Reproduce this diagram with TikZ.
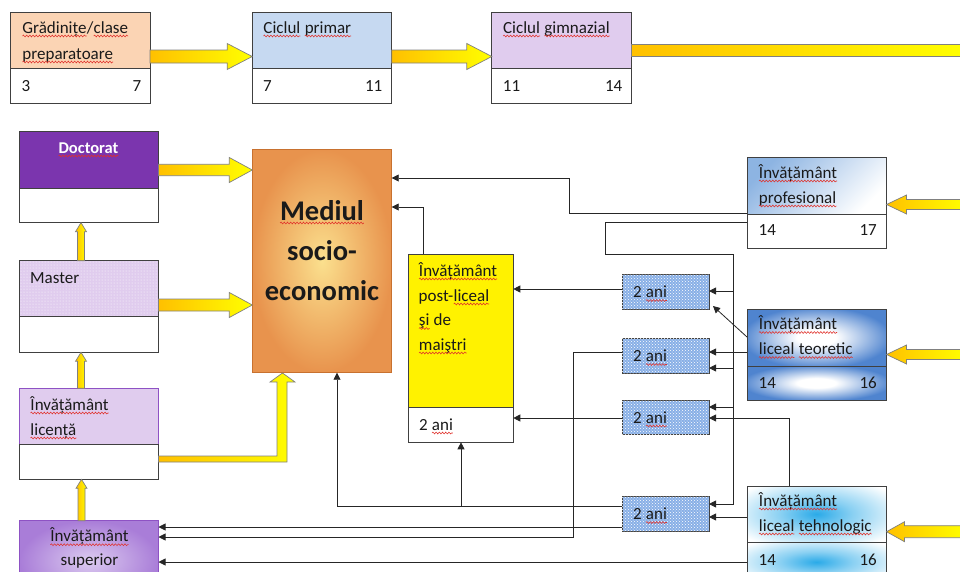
\documentclass[tikz,border=0pt]{standalone}
\usepackage{fontspec}
\setmainfont{Carlito}
\usetikzlibrary{arrows.meta,patterns,calc,shadings,decorations.pathmorphing}
\definecolor{peach}{HTML}{FBD4B4}
\definecolor{lblue}{HTML}{C6D9F1}
\definecolor{lav}{HTML}{E0CCEE}
\definecolor{docp}{HTML}{7B35AE}
\definecolor{edge}{HTML}{404040}
\definecolor{purpedge}{HTML}{8E52C4}
\definecolor{orng}{HTML}{FFC000}
\definecolor{yell}{HTML}{FFFF00}
\definecolor{medout}{HTML}{E8934D}
\definecolor{medin}{HTML}{FBE08E}
\definecolor{medbord}{HTML}{C8712F}
\definecolor{pblue}{HTML}{8DB4E2}
\definecolor{tblue}{HTML}{4F84CF}
\definecolor{cyanb}{HTML}{2AAAE8}
\definecolor{supin}{HTML}{DCCBF0}
\definecolor{supout}{HTML}{A97DD8}
\definecolor{aniblue}{HTML}{88AFE6}
\definecolor{squig}{HTML}{E0302A}
\definecolor{txtc}{HTML}{1A1A1A}
\pgfdeclareradialshading{teosh}{\pgfpointorigin}{color(0bp)=(white); color(7bp)=(white); color(27bp)=(tblue); color(50bp)=(tblue)}
\pgfdeclareradialshading{tehsh}{\pgfpointorigin}{color(0bp)=(cyanb); color(13bp)=(cyanb!55!white); color(33bp)=(white); color(50bp)=(white)}
\newcommand\rw[1]{\tikz[baseline=(wq.base),x=1pt,y=1pt]{\node[inner sep=0pt,outer sep=0pt,anchor=base](wq){#1};\draw[squig,line width=0.55pt,decorate,decoration={snake,amplitude=0.9pt,segment length=3.2pt}]([yshift=-3pt]wq.base west)--([yshift=-3pt]wq.base east);}}
\newcommand\nf{\fontsize{17}{20}\selectfont}
\newcommand\blockH[6]{\pgfmathsetmacro\bx{#2-sign(#2-#1)*#6}%
 \path[barrow] (#1,#3-#4) -- (\bx,#3-#4) -- (\bx,#3-#5) -- (#2,#3) -- (\bx,#3+#5) -- (\bx,#3+#4) -- (#1,#3+#4) -- cycle;}
\newcommand\blockV[6]{\pgfmathsetmacro\by{#3-sign(#3-#2)*#6}%
 \path[barrow] (#1-#4,#2) -- (#1-#4,\by) -- (#1-#5,\by) -- (#1,#3) -- (#1+#5,\by) -- (#1+#4,\by) -- (#1+#4,#2) -- cycle;}
\begin{document}
\begin{tikzpicture}[x=1pt,y=-1pt,
  part/.style={draw=edge, line width=0.9pt, inner sep=0pt, outer sep=0pt, anchor=north west},
  txt/.style={anchor=base west, inner sep=0pt, font=\nf, text=txtc},
  ctxt/.style={anchor=base, inner sep=0pt, font=\nf, text=txtc},
  rtxt/.style={anchor=base east, inner sep=0pt, font=\nf, text=txtc},
  conn/.style={draw=black!85, line width=0.8pt, -{Triangle[length=7pt,width=7pt]}},
  barrow/.style={draw=black!50, line width=0.7pt, left color=orng, right color=yell},
  anibox/.style={part, fill=aniblue, postaction={pattern=crosshatch dots, pattern color=white}, minimum width=87}]
\useasboundingbox (0,0) rectangle (960,571);
\clip (0,0) rectangle (960,571);
% top row
\node[part, fill=peach, minimum width=139.5, minimum height=56] (gradT) at (10.5,12.5) {};
\node[part, fill=white, minimum width=139.5, minimum height=35] (gradB) at (10.5,68.5) {};
\node[part, fill=lblue, minimum width=139.5, minimum height=56] (cpT) at (252.2,12.5) {};
\node[part, fill=white, minimum width=139.5, minimum height=35] (cpB) at (252.2,68.5) {};
\node[part, fill=lav, minimum width=139.5, minimum height=56] (gimT) at (491.8,12.5) {};
\node[part, fill=white, minimum width=139.5, minimum height=35] (gimB) at (491.8,68.5) {};
% left column
\node[part, fill=docp, minimum width=139, minimum height=56.6] (docT) at (19.5,131.7) {};
\node[part, fill=white, minimum width=139, minimum height=34.4] (docB) at (19.5,188.3) {};
\node[part, fill=lav, postaction={pattern=dots, pattern color=white}, minimum width=139, minimum height=56] (masT) at (19.5,260.7) {};
\node[part, fill=white, minimum width=139, minimum height=35.6] (masB) at (19.5,316.7) {};
\node[part, draw=purpedge, fill=lav, minimum width=139, minimum height=56] (licT) at (19.5,388.3) {};
\node[part, fill=white, minimum width=139, minimum height=35] (licB) at (19.5,444.3) {};
\node[part, draw=purpedge, inner color=supin, outer color=supout, minimum width=139, minimum height=80] (sup) at (19.5,520.7) {};
% centre
\node[part, draw=medbord, inner color=medin, outer color=medout, minimum width=139.4, minimum height=223.4] (med) at (252.3,149.3) {};
\node[part, fill=yellow, minimum width=105, minimum height=153.7] (postT) at (408.3,254) {};
\node[part, fill=white, minimum width=105, minimum height=34.6] (postB) at (408.3,407.7) {};
\node[anibox, minimum height=35] (ani1) at (622,274) {};
\node[anibox, minimum height=35] (ani2) at (622,338) {};
\node[anibox, minimum height=34] (ani3) at (622,400) {};
\node[anibox, minimum height=35] (ani4) at (622,496) {};
% right column
\node[part, top color=pblue, bottom color=white, shading angle=45, minimum width=139, minimum height=56.3] (profT) at (747,157.7) {};
\node[part, fill=white, minimum width=139, minimum height=34] (profB) at (747,214) {};
\node[part, shading=teosh, minimum width=139, minimum height=57] (teoT) at (747,309) {};
\node[part, shading=teosh, minimum width=139, minimum height=34] (teoB) at (747,366) {};
\node[part, shading=tehsh, minimum width=139, minimum height=56] (tehT) at (747,486) {};
\node[part, shading=tehsh, minimum width=139, minimum height=40] (tehB) at (747,542) {};
% texts
\node[txt] (g1) at (22,33) {\rw{Grădinițe}/\rw{clase}};
\node[txt] (g2) at (22,59) {\rw{preparatoare}};
\node[txt] (g3) at (21.5,91) {3};
\node[rtxt] (g4) at (141.5,91) {7};
\node[txt] (c1) at (263,33) {\rw{Ciclul} \rw{primar}};
\node[txt] (c2) at (263,91) {7};
\node[rtxt] (c3) at (382.5,91) {11};
\node[txt] (m1) at (502.7,33) {\rw{Ciclul} \rw{gimnazial}};
\node[txt] (m2) at (502.7,91) {11};
\node[rtxt] (m3) at (622.5,91) {14};
\node[ctxt, font=\bfseries\fontsize{16.5}{19}\selectfont, text=white] (d1) at (88.5,153) {\rw{Doctorat}};
\node[txt] (ms1) at (30,283) {Master};
\node[ctxt, font=\bfseries\fontsize{28.5}{30}\selectfont] (me1) at (322,220) {\rw{Mediul}};
\node[ctxt, font=\bfseries\fontsize{28.5}{30}\selectfont] (me2) at (322,260) {socio-};
\node[ctxt, font=\bfseries\fontsize{28.5}{30}\selectfont] (me3) at (322,300) {economic};
\node[txt] (l1) at (30,410) {\rw{Învățământ}};
\node[txt] (l2) at (30,435) {\rw{licență}};
\node[ctxt] (s1) at (89.5,541.7) {\rw{Învățământ}};
\node[ctxt] (s2) at (89.5,565) {superior};
\node[txt] (p1) at (418.5,276) {\rw{Învățământ}};
\node[txt] (p2) at (418.5,301) {post-\rw{liceal}};
\node[txt] (p3) at (418.5,325.5) {\rw{şi} de};
\node[txt] (p4) at (418.5,350) {\rw{maiştri}};
\node[txt] (p5) at (419,430) {2 \rw{ani}};
\node[txt] (a1) at (633,297.5) {2 \rw{ani}};
\node[txt] (a2) at (633,361.5) {2 \rw{ani}};
\node[txt] (a3) at (633,423) {2 \rw{ani}};
\node[txt] (a4) at (633,519.5) {2 \rw{ani}};
\node[txt] (pr1) at (758.5,178) {\rw{Învățământ}};
\node[txt] (pr2) at (758.5,203) {\rw{profesional}};
\node[txt] (pr3) at (758.5,235) {14};
\node[rtxt] (pr4) at (877,235) {17};
\node[txt] (t1) at (758.5,329.5) {\rw{Învățământ}};
\node[txt] (t2) at (758.5,354.5) {\rw{liceal} \rw{teoretic}};
\node[txt] (t3) at (758.5,388.5) {14};
\node[rtxt] (t4) at (877,388.5) {16};
\node[txt] (h1) at (758.5,506) {\rw{Învățământ}};
\node[txt] (h2) at (758.5,531) {\rw{liceal} \rw{tehnologic}};
\node[txt] (h3) at (758.5,565) {14};
\node[rtxt] (h4) at (877,565) {16};
% block arrows
\blockH{150}{252.2}{56.5}{6.5}{13}{25}
\blockH{391.7}{491.8}{56.5}{6.5}{13}{25}
\path[barrow] (631.3,44.5) rectangle (965,56);
\blockH{158.5}{252.3}{170}{5.7}{12.5}{23}
\blockH{158.5}{252.3}{305}{6}{12.5}{23}
\blockH{965}{886.5}{204.5}{5}{9.5}{20}
\blockH{965}{886.5}{354.5}{5}{9.5}{20}
\blockH{965}{886.5}{531.7}{6}{10}{18}
\blockV{81}{260.7}{222.7}{3.5}{5.5}{9}
\blockV{81}{388.3}{352.3}{3.5}{5.5}{9}
\blockV{81.5}{520.7}{479.3}{3.5}{5.5}{9}
\path[barrow] (158.5,456) -- (277,456) -- (277,382) -- (270,382) -- (282.5,373) -- (295,382) -- (287,382) -- (287,462) -- (158.5,462) -- cycle;
% connectors
\coordinate (vbus) at (733,0);
\draw[conn] (profT.west |- 0,213) -| (569,178) -- (med.east |- 0,178);
\draw[conn] (postT.north -| 423,0) |- (med.east |- 0,207);
\draw[conn] (profB.west |- 0,222) -| (605,254) -| (vbus |- 0,504) -- (ani4.east |- 0,504);
\draw[conn] (vbus |- 0,291) -- (ani1.east |- 0,291);
\draw[conn] (vbus |- 0,368) -- (ani2.east |- 0,368);
\draw[conn] (vbus |- 0,407) -- (ani3.east |- 0,407);
\draw[conn] (teoT.west |- 0,337) -- ([shift={(4,-3)}]ani1.south east);
\draw[conn] (teoT.west |- 0,352) -- (ani2.east |- 0,352);
\draw[conn] (ani1.west |- 0,289) -- (postT.east |- 0,289);
\draw[conn] (ani2.west |- 0,352) -| (573,537) -- (sup.east |- 0,537);
\draw[conn] (tehT.north -| 789,0) |- (ani3.east |- 0,418);
\draw[conn] (ani3.west |- 0,418) -- (postB.east |- 0,418);
\draw[conn] (tehT.west |- 0,517) -- (ani4.east |- 0,517);
\draw[conn] (ani4.west |- 0,506) -| (med.south -| 337,0);
\draw[conn] (461,506) -- (postB.south -| 461,0);
\draw[conn] (ani4.west |- 0,527) -- (sup.east |- 0,527);
\draw[conn] (tehB.west |- 0,562) -- (sup.east |- 0,562);
\end{tikzpicture}
\end{document}
